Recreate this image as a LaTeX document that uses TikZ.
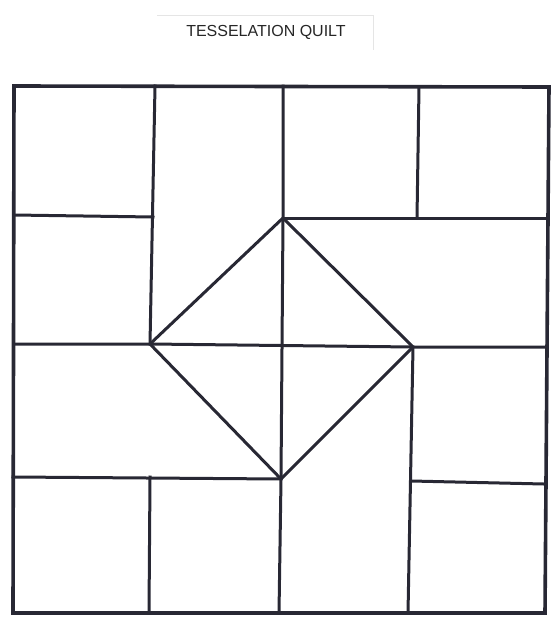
\documentclass[tikz,border=0pt]{standalone}
\usepackage{fontspec}
\setmainfont{Liberation Sans}
\definecolor{ink}{RGB}{40,40,52}
\begin{document}
\begin{tikzpicture}[x=1pt,y=-1pt,
  seam/.style={draw=ink,line width=3pt,line cap=rect,line join=miter},
  border/.style={draw=ink,line width=3.6pt,line cap=rect,line join=miter},
  titletext/.style={font=\fontsize{16}{18}\selectfont,text=black!85}]
\useasboundingbox (0,0) rectangle (558,634);
% faint title card
\draw[black!10,line width=1pt] (157,16) -- (373,16) -- (373,50);
\node[titletext] (title) at (266,32) {TESSELATION QUILT};
% named points
\coordinate (dT) at (283,218);
\coordinate (dR) at (413,347);
\coordinate (dB) at (281,479);
\coordinate (dL) at (150,344);
% outer border
\draw[border] (14,86) -- (549,87) -- (545,613) -- (13,613) -- cycle;
% main cross
\draw[seam] (14,344) -- (dL) -- (dR) -- (546,347);
\draw[seam] (283,86) -- (dT) -- (dB) -- (279,613);
% upper-left block
\draw[seam] (155,86) -- (dL);
\draw[seam] (14,215) -- (153,217);
% upper-right block
\draw[seam] (dT) -- (546,218);
\draw[seam] (419,87) -- (417,218);
% lower-left block
\draw[seam] (13,477) -- (dB);
\draw[seam] (150,477) -- (149,613);
% lower-right block
\draw[seam] (dR) -- (408,613);
\draw[seam] (411,481) -- (544,484);
% diamond
\draw[seam] (dT) -- (dR) -- (dB) -- (dL) -- cycle;
\end{tikzpicture}
\end{document}
